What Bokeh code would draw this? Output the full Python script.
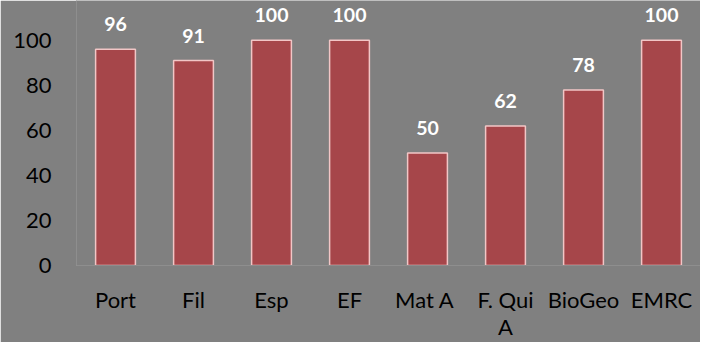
from bokeh.plotting import figure
from bokeh.models import Range1d, ColumnDataSource, FixedTicker
from bokeh.embed import file_html
from bokeh.resources import INLINE
from bokeh.core.properties import value

categories = ["Port", "Fil", "Esp", "EF", "Mat  A", "F. Qui\nA", "BioGeo", "EMRC"]
values = [96, 91, 100, 100, 50, 62, 78, 100]
y_ticks = [0, 20, 40, 60, 80, 100]

BG = "#808080"
FONT = "Lato"

p = figure(width=700, height=342, x_range=categories, y_range=Range1d(0, 117.7),
           output_backend="svg", toolbar_location=None,
           min_border_left=76, min_border_right=0, min_border_top=0, min_border_bottom=76)
p.background_fill_color = BG
p.border_fill_color = BG
p.outline_line_color = None
p.grid.visible = False
p.x_range.range_padding = 0

src = ColumnDataSource(dict(cat=categories, val=values,
                            lab=[str(v) for v in values]))
p.vbar(x="cat", top="val", width=0.51, source=src,
       fill_color="#A6464A", line_color="#F2C6C6", line_width=1.5)
p.text(x="cat", y="val", text="lab", source=src, text_align="center",
       text_baseline="middle", y_offset=-25, text_color="white",
       text_font=value(FONT), text_font_style="bold", text_font_size="19.5px")

p.yaxis.ticker = FixedTicker(ticks=y_ticks)
for ax in (p.xaxis, p.yaxis):
    ax.axis_line_color = "#8E8E8E"
    ax.axis_line_width = 1
    ax.major_tick_line_color = None
    ax.minor_tick_line_color = None
    ax.major_tick_out = 0
    ax.major_tick_in = 0
    ax.major_label_text_font = FONT
    ax.major_label_text_font_size = "22px"
    ax.major_label_text_color = "black"
p.yaxis.major_label_standoff = 25
p.xaxis.major_label_standoff = 20
p.xaxis.major_label_text_line_height = 1.0

open("out.html", "w").write(file_html(p, INLINE))
